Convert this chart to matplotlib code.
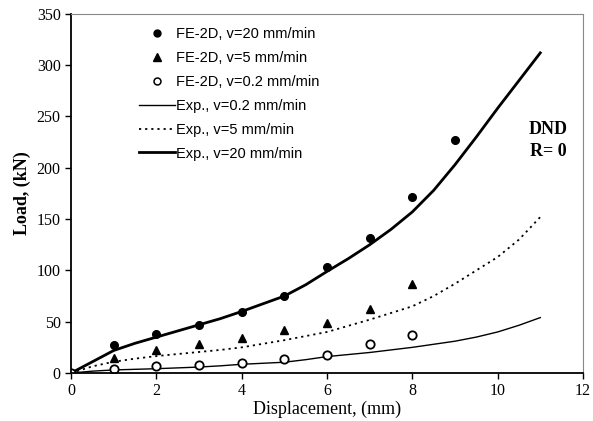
import matplotlib.pyplot as plt
from matplotlib.lines import Line2D

# FE-2D simulation points
fe_x = [0, 1, 2, 3, 4, 5, 6, 7, 8, 9]
fe_v20 = [0, 27, 38, 47, 59.5, 75, 103, 131.5, 172, 227]
fe5_x = [0, 1, 2, 3, 4, 5, 6, 7, 8]
fe_v5 = [0, 15, 22, 28, 34, 42, 48.5, 62, 86.5]
fe02_x = [0, 1, 2, 3, 4, 5, 6, 7, 8]
fe_v02 = [0, 4, 6.5, 8, 10, 13.3, 17.5, 28.5, 37]

# experimental curves (read every 0.5 mm)
exp_x = [0, 0.5, 1, 1.5, 2, 2.5, 3, 3.5, 4, 4.5, 5, 5.5, 6, 6.5, 7, 7.5,
         8, 8.5, 9, 9.5, 10, 10.5, 11]
exp_v20 = [0, 11, 22, 29, 35, 41, 47, 53, 60, 67.5, 75, 86, 99, 111.5, 125, 140,
           157, 178, 203, 230, 258, 285, 312]
exp_v5 = [0, 6.5, 11, 14, 16.5, 18.5, 20.5, 22.5, 25, 28.5, 32, 36, 40, 46, 52, 58.5,
          65, 75, 87, 100, 113, 130, 152]
exp_v02 = [0, 1.8, 3, 3.6, 4.2, 5, 5.8, 7, 8.5, 9.5, 10.5, 13, 16, 18, 20, 22.5,
           25, 28, 31, 35, 40, 46.5, 54]

legend_labels = ["FE-2D, v=20 mm/min", "FE-2D, v=5 mm/min", "FE-2D, v=0.2 mm/min",
                 "Exp., v=0.2 mm/min", "Exp., v=5 mm/min", "Exp., v=20 mm/min"]

serif = "Liberation Serif"
sans = "Liberation Sans"

fig = plt.figure(figsize=(5.93, 4.21), dpi=100)
ax = fig.add_axes([0.120, 0.114, 0.863, 0.853])

ax.plot(exp_x, exp_v02, color="black", lw=1.0, solid_joinstyle="round")
ax.plot(exp_x, exp_v5, color="black", lw=1.3, linestyle=(0, (1.2, 2.2)))
ax.plot(exp_x, exp_v20, color="black", lw=2.0, solid_joinstyle="round")

ax.plot(fe_x, fe_v20, "o", color="black", ms=5.5, linestyle="none")
ax.plot(fe5_x, fe_v5, "^", color="black", ms=6, linestyle="none")
ax.plot(fe02_x, fe_v02, "o", mfc="white", mec="black", mew=1.3, ms=6, linestyle="none")

ax.set_xlim(0, 12)
ax.set_ylim(0, 350)
ax.set_xticks(range(0, 13, 2))
ax.set_yticks(range(0, 351, 50))
ax.tick_params(direction="out", length=4, width=1, labelsize=11.5)
for lab in ax.get_xticklabels() + ax.get_yticklabels():
    lab.set_fontfamily(serif)

for s in ["left", "bottom"]:
    ax.spines[s].set_linewidth(1.3)
for s in ["top", "right"]:
    ax.spines[s].set_color("#888888")
    ax.spines[s].set_linewidth(0.8)
    ax.spines[s].set_linestyle((0, (1, 1)))

ax.set_xlabel("Displacement, (mm)", fontfamily=serif, fontsize=13, labelpad=1)
ax.set_ylabel("Load, (kN)", fontfamily=serif, fontsize=13, fontweight="bold", labelpad=4)

ax.text(11.18, 237, "DND", fontfamily=serif, fontweight="bold", fontsize=13,
        ha="center", va="center")
ax.text(11.18, 216, "R= 0", fontfamily=serif, fontweight="bold", fontsize=13,
        ha="center", va="center")

handles = [
    Line2D([], [], marker="o", color="black", ms=5, linestyle="none"),
    Line2D([], [], marker="^", color="black", ms=5.5, linestyle="none"),
    Line2D([], [], marker="o", mfc="white", mec="black", mew=1.1, ms=5, linestyle="none"),
    Line2D([], [], color="black", lw=1.0),
    Line2D([], [], color="black", lw=1.3, linestyle=(0, (1.2, 2.2))),
    Line2D([], [], color="black", lw=2.0),
]
ax.legend(handles, legend_labels, loc="upper left", bbox_to_anchor=(0.106, 1.0),
          frameon=False, prop={"family": sans, "size": 10.5},
          handlelength=2.5, handletextpad=0.1, labelspacing=0.68)

fig.savefig("out.png", dpi=100)
